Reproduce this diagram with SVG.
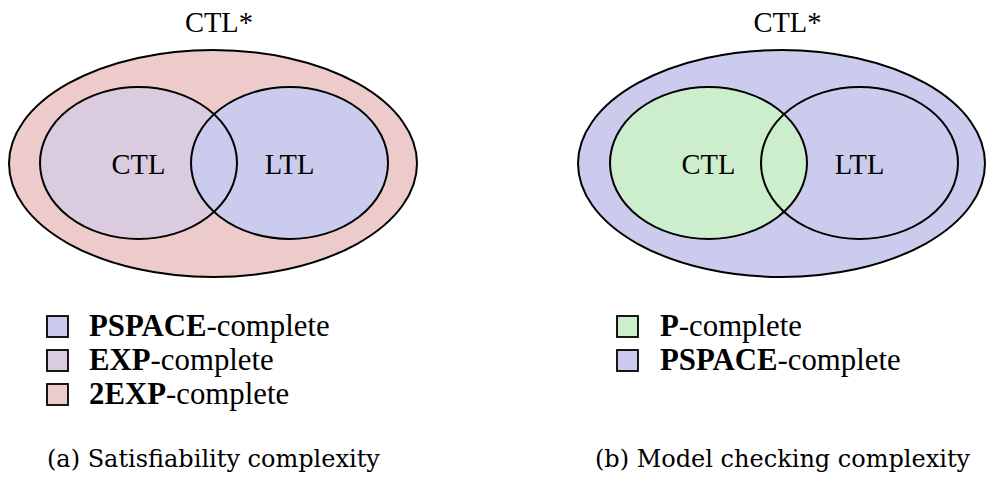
<svg xmlns="http://www.w3.org/2000/svg" width="986" height="478" viewBox="0 0 986 478">
<style>
.ln{stroke:#000;stroke-width:2;}
.nf{fill:none;}
.pink{fill:#EECBCB;}
.mauve{fill:#DBCBDE;}
.blue{fill:#CBCBEE;}
.green{fill:#CCEECC;}
.t{font-family:"Liberation Serif","Times New Roman",serif;font-size:28.5px;fill:#000;}
.lg{font-family:"Liberation Serif","Times New Roman",serif;font-size:30.8px;fill:#000;}
.b{font-weight:bold;}
.cap{font-family:"DejaVu Serif",serif;font-size:24px;fill:#000;}
.sq{stroke:#000;stroke-width:1.8;}
</style>
<g id="panel-a">
  <g id="a-ctlstar">
    <ellipse class="pink ln" cx="213" cy="163.5" rx="204" ry="113.5"/>
    <text class="t" x="219" y="32" text-anchor="middle">CTL*</text>
  </g>
  <g id="a-ctl">
    <ellipse class="mauve" cx="138.5" cy="163" rx="98.5" ry="76"/>
  </g>
  <g id="a-ltl">
    <ellipse class="blue" cx="289.5" cy="163" rx="98.5" ry="76"/>
  </g>
  <ellipse class="nf ln" cx="138.5" cy="163" rx="98.5" ry="76"/>
  <ellipse class="nf ln" cx="289.5" cy="163" rx="98.5" ry="76"/>
  <text class="t" x="138.5" y="174" text-anchor="middle">CTL</text>
  <text class="t" x="289.5" y="174" text-anchor="middle">LTL</text>
  <g id="a-legend">
    <rect class="blue sq" x="47" y="316" width="21" height="21"/>
    <text class="lg" x="89" y="336"><tspan class="b">PSPACE</tspan>-complete</text>
    <rect class="mauve sq" x="47" y="350" width="21" height="21"/>
    <text class="lg" x="89" y="370"><tspan class="b">EXP</tspan>-complete</text>
    <rect class="pink sq" x="47" y="384" width="21" height="21"/>
    <text class="lg" x="89" y="404"><tspan class="b">2EXP</tspan>-complete</text>
  </g>
  <text class="cap" x="47" y="467">(a) Satisfiability complexity</text>
</g>
<g id="panel-b">
  <g id="b-ctlstar">
    <ellipse class="blue ln" cx="781.5" cy="163.5" rx="203.5" ry="113.5"/>
    <text class="t" x="787.5" y="32" text-anchor="middle">CTL*</text>
  </g>
  <g id="b-ltl">
    <ellipse class="blue" cx="859.5" cy="163" rx="98.5" ry="76"/>
  </g>
  <g id="b-ctl">
    <ellipse class="green" cx="708.5" cy="163" rx="98.5" ry="76"/>
  </g>
  <ellipse class="nf ln" cx="708.5" cy="163" rx="98.5" ry="76"/>
  <ellipse class="nf ln" cx="859.5" cy="163" rx="98.5" ry="76"/>
  <text class="t" x="708.5" y="174" text-anchor="middle">CTL</text>
  <text class="t" x="859.5" y="174" text-anchor="middle">LTL</text>
  <g id="b-legend">
    <rect class="green sq" x="617" y="316" width="21" height="21"/>
    <text class="lg" x="660" y="336"><tspan class="b">P</tspan>-complete</text>
    <rect class="blue sq" x="617" y="350" width="21" height="21"/>
    <text class="lg" x="660" y="370"><tspan class="b">PSPACE</tspan>-complete</text>
  </g>
  <text class="cap" x="595" y="467">(b) Model checking complexity</text>
</g>
<g id="connectors"></g>
</svg>
